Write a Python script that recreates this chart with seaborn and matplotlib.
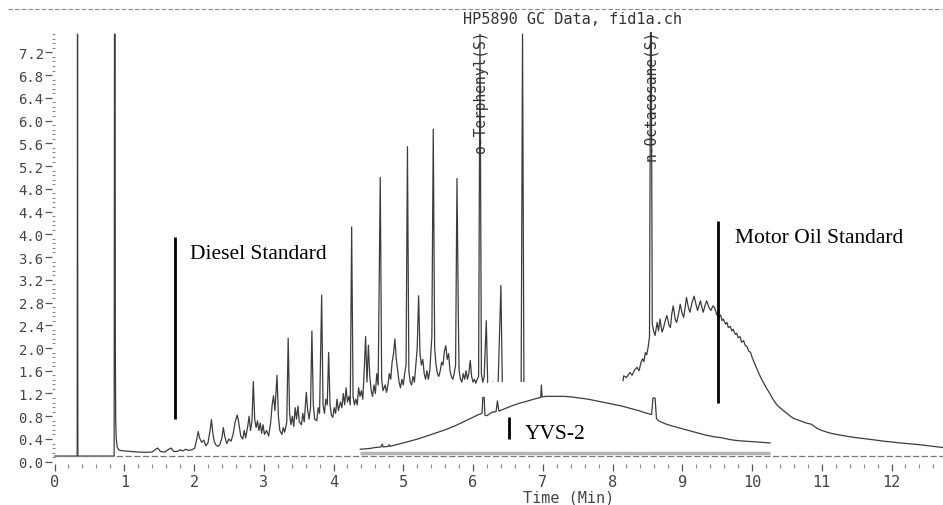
import numpy as np
import matplotlib
matplotlib.use("Agg")
import matplotlib.pyplot as plt
import seaborn as sns
from matplotlib.ticker import FixedLocator
from matplotlib.lines import Line2D
from matplotlib.patches import Rectangle

# Diesel standard trace (time in min, signal), incl. injection and solvent peak
diesel_t = [0.00, 0.325, 0.33, 0.335, 0.855, 0.860, 0.868, 0.872, 0.877, 0.885, 0.90, 0.93,
            1.00, 1.10, 1.20, 1.30, 1.40, 1.45, 1.48, 1.52, 1.58, 1.64, 1.67, 1.71, 1.76, 1.80,
            1.84, 1.88, 1.92, 1.97, 2.01,
            2.04, 2.06, 2.08, 2.11, 2.14, 2.17, 2.20, 2.23, 2.25, 2.27, 2.29, 2.31, 2.34, 2.37,
            2.40, 2.42, 2.44, 2.47, 2.50, 2.53, 2.56, 2.59, 2.62, 2.64, 2.67, 2.70, 2.72, 2.74,
            2.77, 2.79, 2.81, 2.83, 2.85, 2.87, 2.89, 2.91, 2.93, 2.95, 2.97, 2.99, 3.01,
            3.04, 3.07, 3.10, 3.12, 3.14, 3.16, 3.19, 3.21, 3.23, 3.26, 3.28, 3.30, 3.33, 3.35,
            3.37, 3.39, 3.41, 3.43, 3.45, 3.47, 3.49, 3.51, 3.54, 3.56, 3.58, 3.61, 3.63, 3.65,
            3.67, 3.69, 3.71, 3.73, 3.76, 3.78, 3.80, 3.83, 3.85, 3.87, 3.89, 3.91, 3.93, 3.95,
            3.97, 3.99,
            4.01, 4.03, 4.05, 4.07, 4.10, 4.12, 4.14, 4.16, 4.18, 4.20, 4.22, 4.24, 4.26, 4.28,
            4.30, 4.32, 4.34, 4.36, 4.38, 4.40, 4.42, 4.44, 4.46, 4.48, 4.50, 4.52, 4.54, 4.56,
            4.58, 4.60, 4.62, 4.64, 4.67, 4.69, 4.71, 4.74, 4.76, 4.78, 4.80, 4.82, 4.84, 4.86,
            4.88, 4.90, 4.92, 4.94, 4.96, 4.98, 5.00, 5.02,
            5.04, 5.06, 5.08, 5.10, 5.12, 5.14, 5.16, 5.18, 5.20, 5.22, 5.24, 5.26, 5.28, 5.30,
            5.32, 5.34, 5.36, 5.38, 5.40, 5.41, 5.43, 5.45, 5.47, 5.49, 5.51, 5.53, 5.55, 5.57,
            5.59, 5.61, 5.63, 5.65, 5.67, 5.69, 5.71, 5.73, 5.75, 5.77, 5.79, 5.80, 5.82, 5.84,
            5.86, 5.88, 5.90, 5.92, 5.94, 5.96, 5.98, 6.00, 6.02, 6.04, 6.06, 6.08, 6.10, 6.12,
            6.14, 6.16, 6.19, 6.21, 6.24, 6.28, 6.32, 6.36, 6.40, 6.42, 6.46, 6.50, 6.55, 6.60,
            6.65, 6.69, 6.71, 6.73, 6.78, 6.85]
diesel_v = [0.10, 0.10, 7.52, 0.10, 0.10, 7.52, 7.52, 2.00, 0.75, 0.40, 0.25, 0.20,
            0.19, 0.18, 0.17, 0.165, 0.17, 0.22, 0.24, 0.18, 0.17, 0.22, 0.24, 0.18, 0.18, 0.21,
            0.19, 0.22, 0.20, 0.21, 0.24,
            0.40, 0.53, 0.42, 0.34, 0.38, 0.28, 0.33, 0.55, 0.74, 0.50, 0.36, 0.30, 0.27, 0.30,
            0.42, 0.60, 0.45, 0.32, 0.40, 0.36, 0.48, 0.70, 0.82, 0.70, 0.45, 0.40, 0.55, 0.42,
            0.62, 0.80, 0.55, 0.70, 1.41, 0.75, 0.60, 0.72, 0.55, 0.68, 0.50, 0.65, 0.48,
            0.55, 0.45, 0.70, 1.00, 1.16, 0.90, 1.52, 0.80, 0.55, 0.48, 0.60, 0.52, 0.70, 2.17,
            0.85, 0.65, 0.80, 0.62, 0.95, 0.75, 0.98, 0.70, 0.65, 0.85, 0.70, 1.22, 0.90, 0.75,
            0.95, 2.30, 1.00, 0.75, 0.72, 0.95, 0.85, 2.93, 1.00, 0.85, 1.10, 1.00, 1.92, 1.00,
            0.82, 0.78,
            0.95, 0.85, 1.10, 0.90, 1.05, 0.95, 1.20, 1.00, 1.30, 1.05, 1.15, 1.00, 4.13, 1.15,
            1.00, 1.10, 1.00, 1.30, 1.15, 1.25, 1.10, 1.60, 2.20, 1.40, 2.05, 1.50, 1.25, 1.15,
            1.35, 1.20, 1.55, 1.35, 5.00, 1.45, 1.25, 1.35, 1.22, 1.35, 1.55, 1.45, 1.75, 1.90,
            2.16, 1.80, 1.60, 1.40, 1.30, 1.45, 1.35, 1.55,
            1.70, 5.54, 1.60, 1.40, 1.35, 1.50, 1.40, 1.70, 2.00, 2.92, 1.90, 1.70, 1.80, 1.55,
            1.45, 1.60, 1.45, 1.60, 2.00, 2.20, 5.85, 2.00, 1.70, 1.55, 1.50, 1.60, 1.75, 1.70,
            1.95, 2.04, 1.80, 1.90, 1.60, 1.50, 1.45, 1.55, 1.70, 4.98, 2.51, 1.60, 1.45, 1.40,
            1.55, 1.45, 1.60, 1.45, 1.55, 1.78, 1.50, 1.40, 1.45, 1.38, 1.45, 1.50, 7.52, 1.55,
            1.40, 1.50, 2.48, 1.40, 1.35, 1.40, 1.35, 1.38, 3.10, 1.35, 1.38, 1.35, 1.38, 1.35,
            1.33, 1.35, 7.52, 1.35, 1.33, 1.30]

# Motor oil standard trace
motor_t = [8.15, 8.16, 8.20, 8.25, 8.28, 8.32, 8.35, 8.38, 8.41, 8.43, 8.45, 8.47, 8.49, 8.51,
           8.53, 8.545, 8.555, 8.57, 8.59, 8.61, 8.64, 8.66, 8.68, 8.71, 8.73, 8.76, 8.78, 8.81,
           8.83, 8.85, 8.87, 8.90, 8.92, 8.95, 8.97, 9.00, 9.02, 9.04, 9.06, 9.09, 9.11, 9.14,
           9.17, 9.20, 9.22, 9.24, 9.26, 9.28, 9.30, 9.33, 9.35, 9.38, 9.41, 9.44, 9.46, 9.49,
           9.52, 9.55, 9.57, 9.59, 9.62, 9.64, 9.66, 9.69, 9.71, 9.73, 9.76, 9.78, 9.80, 9.83,
           9.85, 9.88, 9.90, 9.93, 9.95, 9.98, 10.00, 10.04, 10.07, 10.11, 10.16, 10.21, 10.26,
           10.30, 10.35, 10.40, 10.45, 10.50, 10.54, 10.60, 10.69, 10.78, 10.85, 10.93, 11.00,
           11.10, 11.17, 11.30, 11.45, 11.65, 11.90, 12.13, 12.40, 12.60, 12.74]
motor_v = [1.42, 1.51, 1.48, 1.57, 1.52, 1.62, 1.66, 1.60, 1.75, 1.81, 1.76, 1.92, 1.88, 2.01,
           2.20, 7.55, 7.55, 2.42, 2.30, 2.22, 2.45, 2.30, 2.51, 2.28, 2.35, 2.50, 2.57, 2.40,
           2.36, 2.60, 2.74, 2.50, 2.45, 2.62, 2.77, 2.60, 2.54, 2.70, 2.89, 2.70, 2.63, 2.80,
           2.91, 2.75, 2.66, 2.75, 2.83, 2.72, 2.63, 2.76, 2.83, 2.72, 2.66, 2.74, 2.72, 2.60,
           2.54, 2.58, 2.48, 2.51, 2.42, 2.45, 2.36, 2.38, 2.30, 2.33, 2.24, 2.26, 2.18, 2.20,
           2.10, 2.13, 2.05, 2.02, 1.95, 1.92, 1.84, 1.72, 1.63, 1.52, 1.40, 1.29, 1.19,
           1.10, 1.01, 0.95, 0.90, 0.85, 0.81, 0.76, 0.72, 0.68, 0.66, 0.59, 0.55,
           0.51, 0.49, 0.46, 0.43, 0.40, 0.36, 0.33, 0.30, 0.27, 0.25]

# YVS-2 sample trace (pasted inset)
yvs_t = [4.38, 4.50, 4.60, 4.68, 4.70, 4.71, 4.78, 4.80, 4.81, 4.90, 5.03, 5.15, 5.26, 5.38,
         5.50, 5.62, 5.74, 5.86, 5.98, 6.08, 6.13, 6.14, 6.16, 6.17, 6.20, 6.27, 6.33, 6.35,
         6.37, 6.45, 6.55, 6.67, 6.79, 6.90, 6.97, 6.98, 6.99, 7.05, 7.18, 7.30, 7.41, 7.53,
         7.65, 7.77, 7.89, 8.01, 8.13, 8.25, 8.37, 8.47, 8.56, 8.58, 8.61, 8.63, 8.66, 8.75,
         8.85, 8.97, 9.09, 9.21, 9.33, 9.45, 9.57, 9.68, 9.80, 9.92, 10.04, 10.15, 10.26]
yvs_v = [0.22, 0.23, 0.25, 0.26, 0.31, 0.26, 0.27, 0.30, 0.27, 0.30, 0.34, 0.38, 0.42, 0.47,
         0.52, 0.57, 0.63, 0.70, 0.77, 0.83, 0.85, 1.13, 1.13, 0.82, 0.81, 0.87, 0.88, 1.07,
         0.89, 0.93, 0.98, 1.03, 1.07, 1.11, 1.13, 1.35, 1.14, 1.15, 1.15, 1.15, 1.14, 1.12,
         1.10, 1.07, 1.04, 1.01, 0.98, 0.94, 0.90, 0.86, 0.83, 1.12, 1.12, 0.76, 0.72, 0.67,
         0.63, 0.59, 0.55, 0.51, 0.47, 0.44, 0.42, 0.39, 0.37, 0.36, 0.35, 0.34, 0.33]

y_ticks = [0.0, 0.4, 0.8, 1.2, 1.6, 2.0, 2.4, 2.8, 3.2, 3.6, 4.0, 4.4, 4.8, 5.2, 5.6, 6.0,
           6.4, 6.8, 7.2]
x_ticks = [0, 1, 2, 3, 4, 5, 6, 7, 8, 9, 10, 11, 12]

sns.set_theme(style="white")
plt.rcParams["font.family"] = ["DejaVu Sans Mono"]

W, H = 943, 506
fig = plt.figure(figsize=(W / 100, H / 100), dpi=100)
ax = fig.add_axes([52 / W, 1 - 465 / H, 891 / W, 455 / H])

trace = "#3c3c3c"
sns.lineplot(x=diesel_t, y=diesel_v, sort=False, estimator=None, color=trace, lw=0.9, ax=ax, zorder=2)
sns.lineplot(x=motor_t, y=motor_v, sort=False, estimator=None, color=trace, lw=0.9, ax=ax, zorder=2)

# white patch from the pasted inset, then the inset trace
ax.add_patch(Rectangle((6.21, -0.04), 0.79, 1.44, facecolor="white", edgecolor="none", zorder=2.5))
ax.hlines(0.10, 0, 12.74, color="#777777", lw=0.9, linestyles=(0, (5, 2)), zorder=3)
ax.hlines(0.145, 4.38, 10.26, color="#b5b5b5", lw=2.5, zorder=3)
sns.lineplot(x=yvs_t, y=yvs_v, sort=False, estimator=None, color=trace, lw=0.9, ax=ax, zorder=3)

ax.set_xlim(-0.036, 12.738)
ax.set_ylim(-0.04, 7.962)

ax.set_yticks(y_ticks)
ax.set_yticklabels([f"{v:.1f}" for v in y_ticks])
ax.yaxis.set_minor_locator(FixedLocator(np.arange(0, 7.55, 0.08)))
ax.set_xticks(x_ticks)
ax.set_xticklabels([str(v) for v in x_ticks])
ax.xaxis.set_minor_locator(FixedLocator(np.arange(0, 12.75, 0.2)))

ax.tick_params(axis="y", which="major", left=True, direction="out", length=5, width=0.9,
               color="#555555", pad=1, labelsize=10, labelcolor="#444444")
ax.tick_params(axis="y", which="minor", left=True, direction="in", length=2, width=0.8,
               color="#888888")
ax.tick_params(axis="x", which="major", bottom=True, direction="out", length=5, width=0.9,
               color="#555555", pad=2, labelsize=11, labelcolor="#444444")
ax.tick_params(axis="x", which="minor", bottom=True, direction="out", length=3, width=0.8,
               color="#888888")
sns.despine(ax=ax, left=True, bottom=True)
ax.grid(False)
ax.set_xlabel("")
ax.set_ylabel("")

# instrument texts
fig.text(463 / W, 1 - 20 / H, "HP5890 GC Data, fid1a.ch", ha="left", va="center",
         fontsize=11, color="#333333")
fig.text(569 / W, 1 - 498 / H, "Time (Min)", ha="center", va="center",
         fontsize=11, color="#444444")
fig.add_artist(Line2D([8 / W, 1], [1 - 10 / H, 1 - 10 / H], transform=fig.transFigure,
                      color="#888888", lw=0.8, ls=(0, (4, 2))))
ax.text(6.11, 7.61, "o-Terphenyl(S)", rotation=90, ha="center", va="top",
        fontsize=10.5, color="#333333", zorder=4)
ax.text(8.54, 7.61, "n-Octacosane(S)", rotation=90, ha="center", va="top",
        fontsize=10.5, color="#333333", zorder=4)

# annotations
serif = ["Liberation Serif", "DejaVu Serif"]
ax.vlines(1.728, 0.75, 3.95, color="black", lw=2, zorder=5)
ax.text(1.943, 3.59, "Diesel Standard", family=serif, fontsize=15.5, color="black",
        va="baseline", zorder=5)
ax.vlines(9.517, 1.03, 4.24, color="black", lw=2, zorder=5)
ax.text(9.756, 3.864, "Motor Oil Standard", family=serif, fontsize=15.5, color="black",
        va="baseline", zorder=5)
ax.vlines(6.516, 0.40, 0.78, color="black", lw=2, zorder=5)
ax.text(6.745, 0.417, "YVS-2", family=serif, fontsize=15.5, color="black",
        va="baseline", zorder=5)

fig.savefig("out.png", dpi=100)
